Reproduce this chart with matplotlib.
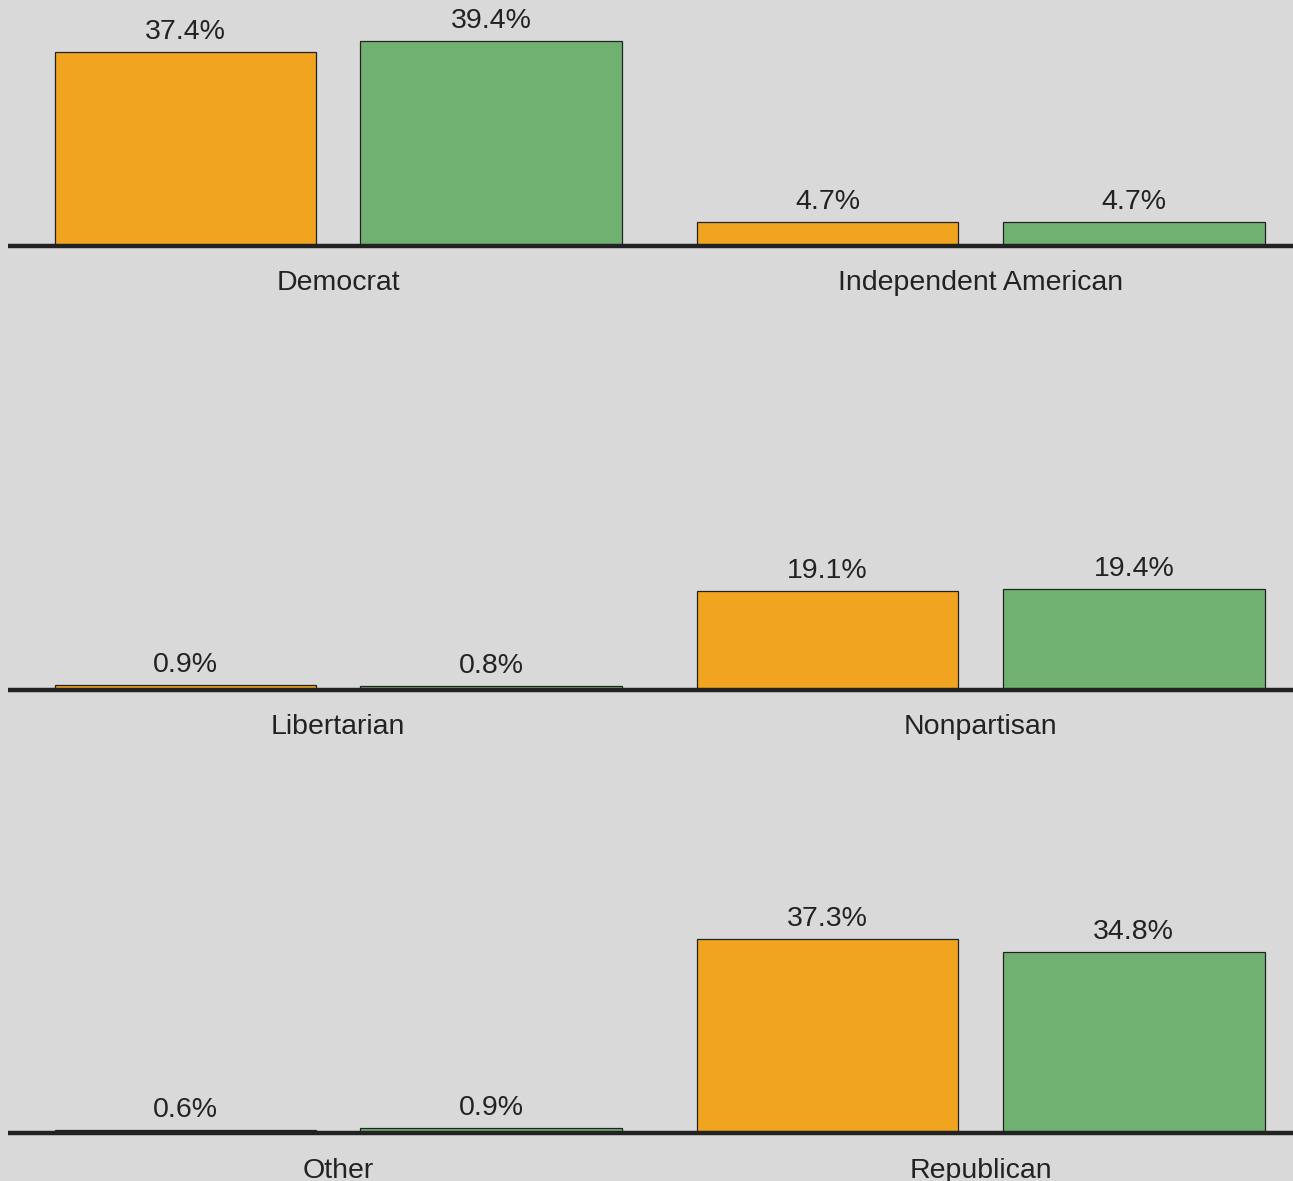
import matplotlib
matplotlib.use("Agg")
import matplotlib.pyplot as plt

categories = ["Democrat", "Independent American", "Libertarian", "Nonpartisan", "Other", "Republican"]
series_a = [37.4, 4.7, 0.9, 19.1, 0.6, 37.3]
series_b = [39.4, 4.7, 0.8, 19.4, 0.9, 34.8]

orange = "#F0A41F"
green = "#70B172"
bg = "#D9D9D9"
txt = "#222222"

W, H = 1293, 1181
fig = plt.figure(figsize=(W / 100, H / 100), dpi=100, facecolor=bg)
plt.rcParams['font.family'] = ['Liberation Sans', 'DejaVu Sans']

baselines = [246, 690, 1133]
col_x = [(8, 650), (650, 1293)]
ax_h = 235
px_per_pct = 5.2
ymax = ax_h / px_per_pct

for i, cat in enumerate(categories):
    r, c = divmod(i, 2)
    x0, x1 = col_x[c]
    yb = baselines[r]
    ax = fig.add_axes([x0 / W, (H - yb) / H, (x1 - x0) / W, ax_h / H])
    ax.set_facecolor(bg)
    ax.patch.set_alpha(0)
    vals = [series_a[i], series_b[i]]
    bars = ax.bar([0, 1], vals, width=0.855, color=[orange, green],
                  edgecolor="#222222", linewidth=0.9, zorder=2)
    for b, v in zip(bars, vals):
        ax.annotate(f"{v}%", (b.get_x() + b.get_width() / 2, v),
                    xytext=(0, 5), textcoords="offset points",
                    ha="center", va="bottom", fontsize=20.5, color=txt)
    ax.set_xlim(-0.58, 1.52)
    ax.set_ylim(0, ymax)
    ax.axhline(0, color="#222222", linewidth=3.2, zorder=3, clip_on=False,
               solid_capstyle="butt")
    for s in ax.spines.values():
        s.set_visible(False)
    ax.set_xticks([])
    ax.set_yticks([])
    ax.annotate(cat, (0.5, 0), xytext=(0, -27), textcoords="offset points",
                ha="center", va="center", fontsize=20.5, color=txt,
                annotation_clip=False)

fig.savefig("out.png", dpi=100, facecolor=bg)
